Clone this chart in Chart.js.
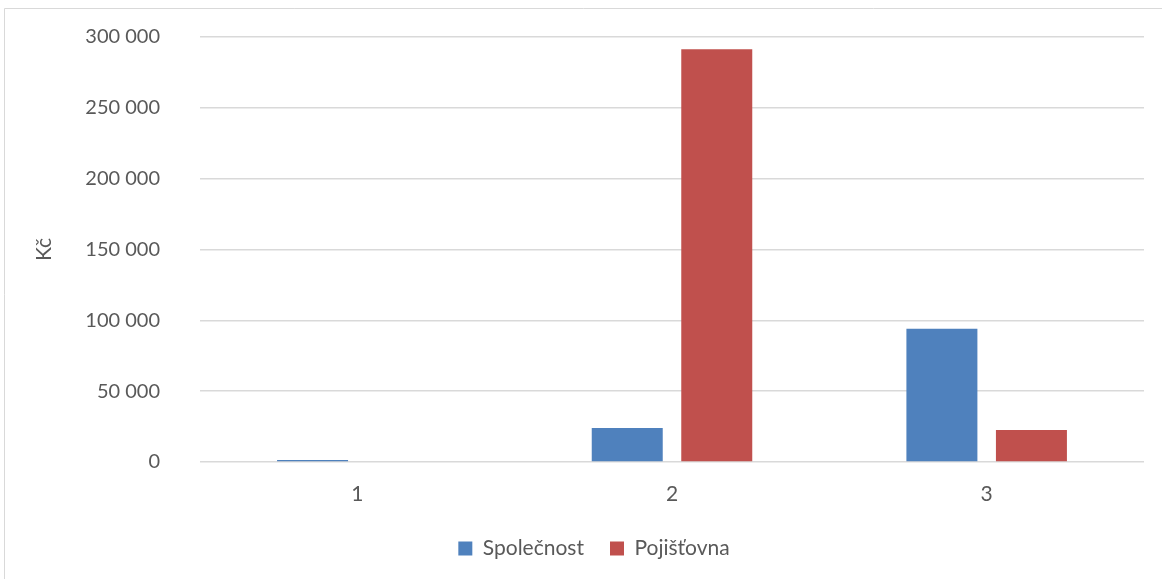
<!DOCTYPE html>
<html>
<head>
<meta charset="utf-8">
<script src="https://cdn.jsdelivr.net/npm/chart.js@4/dist/chart.umd.min.js"></script>
<style>
  html, body { margin: 0; padding: 0; background: #ffffff; }
  #wrap { position: relative; width: 1162px; height: 579px; overflow: hidden; }
  canvas { display: block; }
</style>
</head>
<body>
<div id="wrap"><canvas id="c" width="1162" height="579"></canvas></div>
<script>
// Kategorie a hodnoty (Kč)
const categories = ['1', '2', '3'];
const spolecnost = [1500, 24000, 94000];
const pojistovna = [0, 291300, 22600];
const seriesNames = ['Společnost', 'Pojišťovna'];
const yTicks = [0, 50000, 100000, 150000, 200000, 250000, 300000];

const FONT = 'Lato, "Open Sans", sans-serif';
const TEXT = '#595959';

function fmt(v) {
  return String(v).replace(/\B(?=(\d{3})+(?!\d))/g, ' ');
}

// světle šedý rámeček kolem celého grafu
const framePlugin = {
  id: 'frame',
  beforeDraw(chart) {
    const ctx = chart.ctx;
    ctx.save();
    ctx.strokeStyle = '#d9d9d9';
    ctx.lineWidth = 1;
    ctx.beginPath();
    ctx.moveTo(4.5, 600);
    ctx.lineTo(4.5, 8.5);
    ctx.lineTo(1170, 8.5);
    ctx.stroke();
    ctx.restore();
  }
};

// legenda je mírně posunutá doprava od středu
const legendShift = {
  id: 'legendShift',
  afterLayout(chart) {
    if (chart.legend) {
      chart.legend.left += 20;
      chart.legend.right += 20;
    }
  }
};

new Chart(document.getElementById('c'), {
  type: 'bar',
  data: {
    labels: categories,
    datasets: [
      { label: seriesNames[0], data: spolecnost, backgroundColor: '#4F81BD' },
      { label: seriesNames[1], data: pojistovna, backgroundColor: '#C0504D' }
    ]
  },
  options: {
    responsive: false,
    animation: false,
    devicePixelRatio: 1,
    layout: { padding: { left: 4, top: 37, right: 18, bottom: 10 } },
    datasets: { bar: { categoryPercentage: 0.569, barPercentage: 0.793 } },
    plugins: {
      tooltip: { enabled: false },
      legend: {
        position: 'bottom',
        labels: {
          color: TEXT,
          font: { family: FONT, size: 21 },
          boxWidth: 14,
          boxHeight: 14,
          padding: 26
        }
      }
    },
    scales: {
      x: {
        grid: { display: false, drawTicks: false },
        border: { display: false },
        ticks: { color: TEXT, font: { family: FONT, size: 21 }, padding: 20 },
        afterFit(scale) { scale.height = 50; }
      },
      y: {
        min: 0,
        max: 300000,
        afterBuildTicks(scale) { scale.ticks = yTicks.map(v => ({ value: v })); },
        grid: { color: '#d9d9d9', lineWidth: 1.5, drawTicks: false },
        border: { display: false },
        ticks: {
          color: TEXT,
          font: { family: FONT, size: 20 },
          padding: 40,
          callback: v => fmt(v)
        },
        title: {
          display: true,
          text: 'Kč',
          color: TEXT,
          font: { family: FONT, size: 21 },
          padding: { top: 28, bottom: 0 }
        },
        afterFit(scale) {
          scale.width = 196;
          scale.paddingTop = 0;
          scale.paddingBottom = 0;
        }
      }
    }
  },
  plugins: [framePlugin, legendShift]
});
</script>
</body>
</html>
